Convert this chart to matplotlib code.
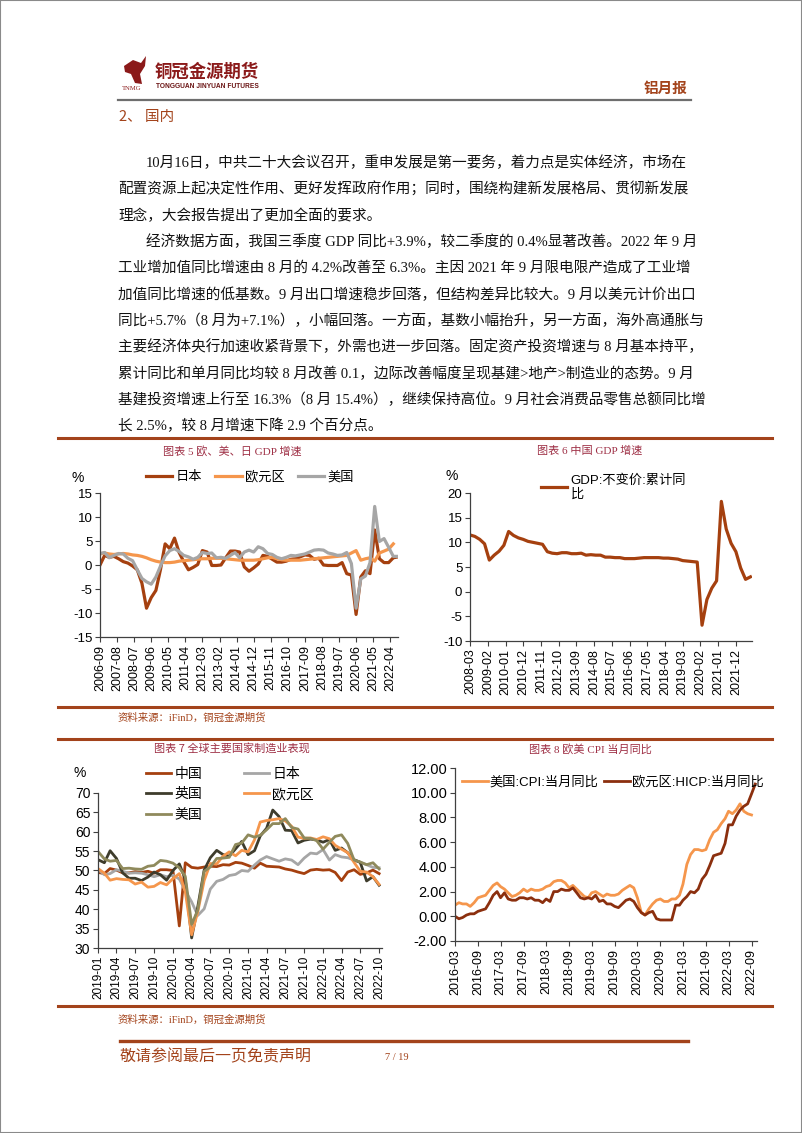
# Page 7 of the aluminium monthly report: text block plus four macro charts.

import numpy as np
import pandas as pd
import matplotlib
matplotlib.use('Agg')
import matplotlib.pyplot as plt
from matplotlib.patches import Rectangle, Polygon
from matplotlib.lines import Line2D

plt.rcParams['font.family'] = ['Liberation Sans', 'Noto Sans CJK SC']
plt.rcParams['axes.unicode_minus'] = False

# ---------------- data ----------------
# chart 5: quarterly GDP yoy (%), 2006-09 .. 2022-09
gdp_dates = pd.date_range('2006-09-01', '2022-09-01', freq='3MS')
jp_gdp = [0.0, 2.0, 1.6, 1.8, 1.3, 0.7, 0.4, -0.2, -1.0, -3.8, -9.0, -6.8, -5.3, -0.9, 4.4, 3.4,
          5.6, 2.6, 0.7, -1.0, -0.5, 0.1, 3.0, 2.7, -0.1, -0.1, 0.0, 1.5, 2.9, 2.9, 2.7, -0.4,
          -1.3, -0.6, 0.2, 2.0, 1.8, 1.2, 0.6, 0.6, 0.8, 1.2, 1.3, 1.7, 2.1, 2.0, 1.2, 1.4,
          0.0, -0.1, -0.1, -0.1, 0.5, -1.8, -2.1, -10.3, -2.5, -1.2, -1.8, 7.3, 1.3, 0.5, 0.5, 1.5, 1.7]
eu_gdp = [2.3, 2.5, 2.3, 2.2, 2.3, 2.4, 2.3, 2.1, 2.0, 1.8, 1.5, 1.1, 0.8, 0.6, 0.5, 0.5,
          0.6, 0.8, 0.9, 1.0, 1.1, 1.2, 1.3, 1.3, 1.4, 1.4, 1.4, 1.3, 1.2, 1.1, 1.0, 1.0,
          1.0, 1.0, 1.1, 1.3, 1.5, 1.6, 1.3, 1.1, 1.0, 1.0, 1.0, 1.0, 1.1, 1.2, 1.3, 1.4,
          1.5, 1.6, 1.7, 1.8, 1.9, 2.0, 2.5, 3.0, 1.0, 1.3, 1.5, 0.8, 2.5, 2.9, 3.3, 4.4, np.nan]
us_gdp = [2.4, 2.6, 1.5, 2.0, 2.4, 2.3, 1.4, 0.9, -1.0, -2.8, -3.5, -4.0, -2.5, -0.2, 1.9, 3.0,
          3.4, 2.8, 2.0, 1.7, 1.2, 1.6, 2.6, 2.4, 2.5, 1.5, 1.6, 1.4, 2.0, 2.6, 1.5, 2.7,
          3.1, 2.7, 3.8, 3.4, 2.4, 2.2, 1.6, 1.3, 1.6, 2.0, 1.9, 2.1, 2.3, 2.7, 3.1, 3.2,
          3.1, 2.5, 2.3, 2.0, 2.1, 2.6, 0.3, -9.0, -2.9, -2.3, 0.5, 12.2, 4.9, 5.5, 3.7, 1.8, 1.8]

# chart 6: China GDP, constant price, cumulative yoy (%), 2008-03 .. 2022-09
cn_dates = pd.date_range('2008-03-01', '2022-09-01', freq='3MS')
cn_gdp = [11.5, 11.2, 10.6, 9.7, 6.4, 7.4, 8.2, 9.4, 12.2, 11.4, 10.9, 10.6, 10.2, 10.0, 9.8, 9.6,
          8.1, 7.8, 7.7, 7.9, 7.9, 7.7, 7.7, 7.8, 7.4, 7.5, 7.4, 7.4, 7.0, 7.0, 6.9, 6.9,
          6.7, 6.7, 6.7, 6.8, 6.9, 6.9, 6.9, 6.9, 6.8, 6.8, 6.7, 6.6, 6.3, 6.2, 6.1, 6.0,
          -6.8, -1.6, 0.7, 2.2, 18.3, 12.7, 9.8, 8.1, 4.8, 2.5, 3.0]

# chart 7: manufacturing PMI, 2019-01 .. 2022-10
pmi_dates = pd.date_range('2019-01-01', '2022-10-01', freq='MS')
pmi_cn = [49.5, 49.2, 50.5, 50.1, 49.4, 49.4, 49.7, 49.5, 49.8, 49.3, 50.2, 50.2,
          50.0, 35.7, 52.0, 50.8, 50.6, 50.9, 51.1, 51.0, 51.5, 51.4, 52.1, 51.9,
          51.3, 50.6, 51.9, 51.1, 51.0, 50.9, 50.4, 50.1, 49.6, 49.2, 50.1, 50.3,
          50.1, 50.2, 49.5, 47.4, 49.6, 50.2, 49.0, 49.4, 50.1, 49.2]
pmi_jp = [50.3, 48.9, 49.2, 50.2, 49.8, 49.3, 49.4, 49.3, 48.9, 48.4, 48.9, 48.4,
          48.8, 47.8, 44.8, 41.9, 38.4, 40.1, 45.2, 47.2, 47.7, 48.7, 49.0, 50.0,
          49.8, 51.4, 52.7, 53.6, 53.0, 52.4, 53.0, 52.7, 51.5, 53.2, 54.5, 54.3,
          55.4, 52.7, 54.1, 53.5, 53.3, 52.7, 52.1, 51.5, 50.8, 50.7]
pmi_uk = [52.8, 52.0, 55.1, 53.1, 49.4, 48.0, 48.0, 47.4, 48.3, 49.6, 48.9, 47.5,
          50.0, 51.7, 47.8, 32.6, 40.7, 50.1, 53.3, 55.2, 54.1, 53.7, 55.6, 57.5,
          54.1, 55.1, 58.9, 60.9, 65.6, 63.9, 60.4, 60.3, 57.1, 57.8, 58.1, 57.9,
          57.3, 58.0, 55.2, 55.8, 54.6, 52.8, 52.1, 47.3, 48.4, 46.2]
pmi_ez = [50.5, 49.3, 47.5, 47.9, 47.7, 47.6, 46.5, 47.0, 45.7, 45.9, 46.9, 46.3,
          47.9, 49.2, 44.5, 33.4, 39.4, 47.4, 51.8, 51.7, 53.7, 54.8, 53.8, 55.2,
          54.8, 57.9, 62.5, 62.9, 63.1, 63.4, 62.8, 61.4, 58.6, 58.3, 58.4, 58.0,
          58.7, 58.2, 56.5, 55.5, 54.6, 52.1, 49.8, 49.6, 48.4, 46.4]
pmi_us = [54.9, 53.0, 52.4, 52.6, 50.5, 50.6, 50.4, 50.3, 51.1, 51.3, 52.6, 52.4,
          51.9, 50.7, 48.5, 36.1, 39.8, 49.8, 50.9, 53.1, 53.2, 53.4, 56.7, 57.1,
          59.2, 58.6, 59.1, 60.5, 62.1, 62.1, 63.4, 61.1, 60.7, 58.4, 58.3, 57.7,
          55.5, 57.3, 58.8, 59.2, 57.0, 52.7, 52.2, 51.5, 52.0, 50.4]

# chart 8: CPI yoy (%), US 2016-03 .. 2022-09, euro area HICP 2016-03 .. 2022-10
us_cpi_dates = pd.date_range('2016-03-01', '2022-09-01', freq='MS')
us_cpi = [0.9, 1.1, 1.0, 1.0, 0.8, 1.1, 1.5, 1.6, 1.7, 2.1,
          2.5, 2.7, 2.4, 2.2, 1.9, 1.6, 1.7, 1.9, 2.2, 2.0, 2.2, 2.1,
          2.1, 2.2, 2.4, 2.5, 2.8, 2.9, 2.9, 2.7, 2.3, 2.5, 2.2, 1.9,
          1.6, 1.5, 1.9, 2.0, 1.8, 1.6, 1.8, 1.7, 1.7, 1.8, 2.1, 2.3,
          2.5, 2.3, 1.5, 0.3, 0.1, 0.6, 1.0, 1.3, 1.4, 1.2, 1.2, 1.4,
          1.4, 1.7, 2.6, 4.2, 5.0, 5.4, 5.4, 5.3, 5.4, 6.2, 6.8, 7.0,
          7.5, 7.9, 8.5, 8.3, 8.6, 9.1, 8.5, 8.3, 8.2]
eu_hicp_dates = pd.date_range('2016-03-01', '2022-10-01', freq='MS')
eu_hicp = [0.0, -0.2, -0.1, 0.1, 0.2, 0.2, 0.4, 0.5, 0.6, 1.1,
           1.7, 2.0, 1.5, 1.9, 1.4, 1.3, 1.3, 1.5, 1.5, 1.4, 1.5, 1.3,
           1.3, 1.1, 1.4, 1.2, 2.0, 2.0, 2.2, 2.1, 2.1, 2.3, 1.9, 1.5,
           1.4, 1.5, 1.4, 1.7, 1.2, 1.3, 1.0, 1.0, 0.8, 0.7, 1.0, 1.3,
           1.4, 1.2, 0.7, 0.3, 0.1, 0.3, 0.4, -0.2, -0.3, -0.3, -0.3, -0.3,
           0.9, 0.9, 1.3, 1.6, 2.0, 1.9, 2.2, 3.0, 3.4, 4.1, 4.9, 5.0,
           5.1, 5.9, 7.4, 7.4, 8.1, 8.6, 8.9, 9.1, 9.9, 10.7]

para1 = ['10月16日，中共二十大会议召开，重申发展是第一要务，着力点是实体经济，市场在',
         '配置资源上起决定性作用、更好发挥政府作用；同时，围绕构建新发展格局、贯彻新发展',
         '理念，大会报告提出了更加全面的要求。']
para2 = ['经济数据方面，我国三季度 GDP 同比+3.9%，较二季度的 0.4%显著改善。2022 年 9 月',
         '工业增加值同比增速由 8 月的 4.2%改善至 6.3%。主因 2021 年 9 月限电限产造成了工业增',
         '加值同比增速的低基数。9 月出口增速稳步回落，但结构差异比较大。9 月以美元计价出口',
         '同比+5.7%（8 月为+7.1%），小幅回落。一方面，基数小幅抬升，另一方面，海外高通胀与',
         '主要经济体央行加速收紧背景下，外需也进一步回落。固定资产投资增速与 8 月基本持平，',
         '累计同比和单月同比均较 8 月改善 0.1，边际改善幅度呈现基建>地产>制造业的态势。9 月',
         '基建投资增速上行至 16.3%（8 月 15.4%），继续保持高位。9 月社会消费品零售总额同比增',
         '长 2.5%，较 8 月增速下降 2.9 个百分点。']

# ---------------- page ----------------
W, H = 802, 1133
fig = plt.figure(figsize=(W / 100, H / 100), dpi=100)


def fx(x):
    return x / W


def fy(y):
    return 1 - y / H


def hline(y, x0, x1, color, lw):
    fig.add_artist(Line2D([fx(x0), fx(x1)], [fy(y), fy(y)], color=color, lw=lw,
                          transform=fig.transFigure))


def px_axes(l, t, r, b):
    return fig.add_axes([l / W, 1 - b / H, (r - l) / W, (b - t) / H])


RED = '#A3431B'
TITLE = '#9E2F45'
serif = ['Liberation Serif', 'Noto Sans CJK SC']
cjk = ['Noto Sans CJK SC', 'DejaVu Sans']

# page frame
fig.add_artist(Rectangle((0, 0), 1, 1, transform=fig.transFigure, fill=False,
                         ec='#8a8a8a', lw=1.5))

# logo
fig.add_artist(Polygon([(fx(124), fy(66)), (fx(133), fy(60)), (fx(141), fy(63)), (fx(146), fy(56)),
                        (fx(145), fy(66)), (fx(140), fy(74)), (fx(142), fy(84)), (fx(135), fy(83)),
                        (fx(131), fy(74)), (fx(125), fy(72))],
                       closed=True, fc='#8B1A1A', ec='none', transform=fig.transFigure))
fig.text(fx(155), fy(72), '铜冠金源期货', fontsize=12.5, color='#8B1A1A', fontweight='bold',
         family=cjk, va='center', ha='left')
fig.text(fx(156), fy(86), 'TONGGUAN JINYUAN FUTURES', fontsize=4.8, color='#6b1515',
         fontweight='bold', va='center', ha='left')
fig.text(fx(122), fy(89), 'TNMG', fontsize=4.8, color='#8B1A1A', family=serif,
         va='center', ha='left')
fig.text(fx(688), fy(88), '铝月报', fontsize=10.5, color=RED, fontweight='bold', family=cjk,
         va='center', ha='right')
hline(100, 118, 691, '#6e6e6e', 1.6)

fig.text(fx(119), fy(117), '2、 国内', fontsize=10.5, color=RED, family=cjk,
         va='center', ha='left')

# body text
lines = [(t, i == 0) for i, t in enumerate(para1)] + [(t, i == 0) for i, t in enumerate(para2)]
for k, (t, indent) in enumerate(lines):
    fig.text(fx(146 if indent else 118), fy(163 + 26.3 * k), t, fontsize=10.5, color='#111111',
             family=serif, va='center', ha='left')

# section rules, titles and sources
hline(438, 58, 772, RED, 2.2)
fig.text(fx(232), fy(451), '图表 5 欧、美、日 GDP 增速', fontsize=8, color=TITLE, family=serif,
         ha='center', va='center')
fig.text(fx(590), fy(451), '图表 6 中国 GDP 增速', fontsize=8, color=TITLE, family=serif,
         ha='center', va='center')
hline(707, 58, 772, RED, 2.2)
fig.text(fx(118), fy(718), '资料来源：iFinD，铜冠金源期货', fontsize=7.5, color=RED, family=serif,
         ha='left', va='center')
hline(739, 58, 772, RED, 2.2)
fig.text(fx(232), fy(749), '图表 7 全球主要国家制造业表现', fontsize=8, color=TITLE, family=cjk,
         ha='center', va='center')
fig.text(fx(590), fy(749), '图表 8 欧美 CPI 当月同比', fontsize=8, color=TITLE, family=serif,
         ha='center', va='center')
hline(1006, 58, 772, RED, 2.2)
fig.text(fx(118), fy(1020), '资料来源：iFinD，铜冠金源期货', fontsize=7.5, color=RED, family=serif,
         ha='left', va='center')
hline(1041, 120, 688, RED, 2.4)
fig.text(fx(120), fy(1057), '敬请参阅最后一页免责声明', fontsize=11.5, color=RED, family=cjk,
         style='italic', ha='left', va='center')
fig.text(fx(385), fy(1057), '7 / 19', fontsize=7.5, color=RED, family=serif,
         ha='left', va='center')


def style(ax, xfs, yfs):
    for s in ['top', 'right']:
        ax.spines[s].set_visible(False)
    for s in ['left', 'bottom']:
        ax.spines[s].set_color('#404040')
        ax.spines[s].set_linewidth(0.9)
    ax.tick_params(axis='both', direction='out', length=3.5, width=0.8, color='#404040')
    ax.tick_params(axis='x', labelsize=xfs, pad=2)
    ax.tick_params(axis='y', labelsize=yfs, pad=2)
    ax.set_facecolor('none')


def date_ticks(ax, start, end, step):
    ticks = pd.date_range(start, end, freq=f'{step}MS')
    ax.set_xticks(ticks)
    ax.set_xticklabels([d.strftime('%Y-%m') for d in ticks], rotation=90, ha='center', va='top')


BROWN = '#A5400F'
ORANGE = '#F5964C'
GRAY = '#A6A6A6'

# ---- chart 5 ----
ax5 = px_axes(100, 493, 398, 637)
ax5.plot(gdp_dates, jp_gdp, color=BROWN, lw=2.3, label='日本')
ax5.plot(gdp_dates, eu_gdp, color=ORANGE, lw=2.3, label='欧元区')
ax5.plot(gdp_dates, us_gdp, color=GRAY, lw=2.3, label='美国')
ax5.set_ylim(-15, 15)
ax5.set_yticks(range(-15, 16, 5))
ax5.set_xlim(pd.Timestamp('2006-09-01'), pd.Timestamp('2022-09-01'))
date_ticks(ax5, '2006-09-01', '2022-04-01', 11)
style(ax5, 9, 9.5)
ax5.legend(loc='center left', bbox_to_anchor=(fx(146), fy(477)), bbox_transform=fig.transFigure,
           ncol=3, frameon=False, fontsize=9.5, handlelength=2.0, handletextpad=0.25,
           columnspacing=1.0, borderpad=0, borderaxespad=0)
fig.text(fx(78), fy(478), '%', fontsize=10, ha='center', va='center')

# ---- chart 6 ----
ax6 = px_axes(470, 493, 752, 641)
ax6.plot(cn_dates, cn_gdp, color=BROWN, lw=2.3, label='GDP:不变价:累计同\n比')
ax6.set_ylim(-10, 20)
ax6.set_yticks(range(-10, 21, 5))
ax6.set_xlim(pd.Timestamp('2008-03-01'), pd.Timestamp('2022-10-01'))
date_ticks(ax6, '2008-03-01', '2021-12-01', 11)
style(ax6, 9, 9.5)
ax6.legend(loc='upper left', bbox_to_anchor=(fx(541), fy(474)), bbox_transform=fig.transFigure,
           frameon=False, fontsize=9.5, handlelength=2.0, handletextpad=0.25,
           borderpad=0, borderaxespad=0)
fig.text(fx(452), fy(476), '%', fontsize=10, ha='center', va='center')

# ---- chart 7 ----
ax7 = px_axes(98, 793, 382, 948)
l_cn, = ax7.plot(pmi_dates, pmi_cn, color='#A5400F', lw=2.0, label='中国')
l_jp, = ax7.plot(pmi_dates, pmi_jp, color='#A6A6A6', lw=2.0, label='日本')
l_uk, = ax7.plot(pmi_dates, pmi_uk, color='#3E3C2C', lw=2.0, label='英国')
l_ez, = ax7.plot(pmi_dates, pmi_ez, color=ORANGE, lw=2.0, label='欧元区')
l_us, = ax7.plot(pmi_dates, pmi_us, color='#8F8A5C', lw=2.0, label='美国')
ax7.set_ylim(30, 70)
ax7.set_yticks(range(30, 71, 5))
ax7.set_xlim(pd.Timestamp('2019-01-01'), pd.Timestamp('2022-10-15'))
date_ticks(ax7, '2019-01-01', '2022-10-01', 3)
style(ax7, 8.5, 10)
ax7.legend([l_cn, l_uk, l_us, l_jp, l_ez], ['中国', '英国', '美国', '日本', '欧元区'],
           loc='upper left', bbox_to_anchor=(fx(146), fy(767)), bbox_transform=fig.transFigure,
           ncol=2, frameon=False, fontsize=10, handlelength=1.8, handletextpad=0.25,
           columnspacing=3.0, labelspacing=0.45, borderpad=0, borderaxespad=0)
fig.text(fx(80), fy(773), '%', fontsize=10, ha='center', va='center')

# ---- chart 8 ----
ax8 = px_axes(455, 768, 757, 941)
ax8.plot(us_cpi_dates, us_cpi, color=ORANGE, lw=2.0, label='美国:CPI:当月同比')
ax8.plot(eu_hicp_dates, eu_hicp, color='#8B2F0E', lw=2.0, label='欧元区:HICP:当月同比')
ax8.set_ylim(-2, 12)
ax8.set_yticks(range(-2, 13, 2))
ax8.yaxis.set_major_formatter(plt.FuncFormatter(lambda v, p: f'{v:.2f}'))
ax8.set_xlim(pd.Timestamp('2016-03-01'), pd.Timestamp('2022-10-15'))
date_ticks(ax8, '2016-03-01', '2022-09-01', 6)
style(ax8, 9, 10.5)
ax8.legend(loc='center left', bbox_to_anchor=(fx(462), fy(782)), bbox_transform=fig.transFigure,
           ncol=2, frameon=False, fontsize=9.5, handlelength=2.0, handletextpad=0.1,
           columnspacing=0.4, borderpad=0, borderaxespad=0)

fig.savefig('out.png', dpi=100)
